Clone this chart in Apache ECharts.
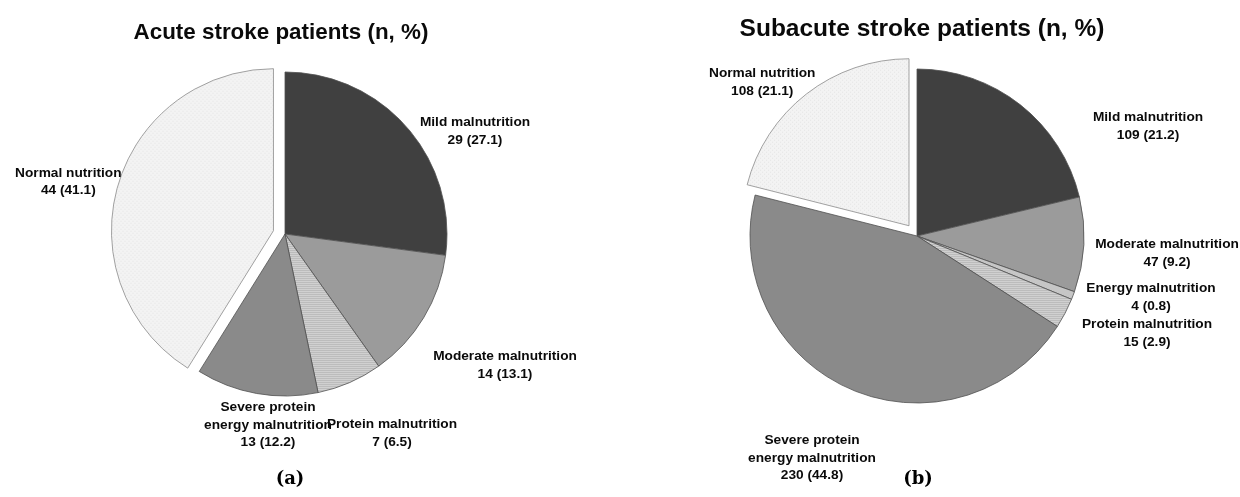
<!DOCTYPE html>
<html>
<head>
<meta charset="utf-8">
<title>Nutritional status of stroke patients</title>
<script src="https://cdn.jsdelivr.net/npm/echarts@6/dist/echarts.min.js"></script>
<style>
  html, body { margin: 0; padding: 0; background: #ffffff; }
  #chart { width: 1240px; height: 497px; }
</style>
</head>
<body>
<div id="chart"></div>
<script>
// Acute stroke patients: slices in clockwise order from 12 o'clock
const acuteCategories = ['Mild malnutrition', 'Moderate malnutrition', 'Protein malnutrition', 'Severe protein\nenergy malnutrition', 'Normal nutrition'];
const acuteCounts = [29, 14, 7, 13, 44];
const acutePercents = ['27.1', '13.1', '6.5', '12.2', '41.1'];

// Subacute stroke patients
const subacuteCategories = ['Mild malnutrition', 'Moderate malnutrition', 'Energy malnutrition', 'Protein malnutrition', 'Severe protein\nenergy malnutrition', 'Normal nutrition'];
const subacuteCounts = [109, 47, 4, 15, 230, 108];
const subacutePercents = ['21.2', '9.2', '0.8', '2.9', '44.8', '21.1'];

const chartTitles = ['Acute stroke patients (n, %)', 'Subacute stroke patients (n, %)'];
const panelLetters = ['a', 'b'];

// Small tiles used as fills for the patterned slices
function makePattern(size, draw) {
  const c = document.createElement('canvas');
  c.width = size; c.height = size;
  draw(c.getContext('2d'), size);
  return { image: c, repeat: 'repeat' };
}
const stripeFill = makePattern(4, (ctx, s) => {
  ctx.fillStyle = '#d0d0d0'; ctx.fillRect(0, 0, s, s);
  ctx.fillStyle = '#bcbcbc'; ctx.fillRect(0, 0, s, 1); ctx.fillRect(0, 2, s, 1);
});
const dotFill = makePattern(4, (ctx, s) => {
  ctx.fillStyle = '#f3f3f3'; ctx.fillRect(0, 0, s, s);
  ctx.fillStyle = '#e4e4e4'; ctx.fillRect(0, 0, 1, 1); ctx.fillRect(2, 2, 1, 1);
});

const fills = {
  'Mild malnutrition': '#404040',
  'Moderate malnutrition': '#9b9b9b',
  'Energy malnutrition': '#c6c6c6',
  'Protein malnutrition': stripeFill,
  'Severe protein\nenergy malnutrition': '#8a8a8a',
  'Normal nutrition': dotFill
};

// Label anchor points (text block centres) for each panel
const labelSpots = [
  [[475, 131], [505, 365], [392, 433], [268, 425], [63, 157]],
  [[1148, 126], [1167, 253], [1151, 297], [1147, 333], [812, 458], [790, 111]]
];

function buildData(cats, counts) {
  return cats.map((name, i) => ({
    name: name,
    value: counts[i],
    selected: name === 'Normal nutrition',
    itemStyle: {
      color: fills[name],
      borderColor: name === 'Normal nutrition' ? '#8a8a8a' : '#505050',
      borderWidth: 0.8
    }
  }));
}

function pieSeries(idx, cats, counts, percents, center, radius, offset) {
  return {
    type: 'pie',
    center: center,
    radius: radius,
    startAngle: 90,
    clockwise: true,
    selectedMode: 'single',
    selectedOffset: offset,
    avoidLabelOverlap: false,
    emphasis: { disabled: true },
    label: {
      show: true,
      position: 'outside',
      fontFamily: 'Liberation Sans, Arial, sans-serif',
      fontWeight: 'bold',
      fontSize: 13.7,
      lineHeight: 17.5,
      color: '#0a0a0a',
      align: 'center',
      formatter: p => p.name + '\n' + counts[p.dataIndex] + ' (' + percents[p.dataIndex] + ')'
    },
    labelLine: { show: false },
    labelLayout: p => {
      const spot = labelSpots[idx][p.dataIndex];
      return { x: spot[0], y: spot[1], align: 'center', verticalAlign: 'middle' };
    },
    data: buildData(cats, counts)
  };
}

const chart = echarts.init(document.getElementById('chart'), null, { renderer: 'canvas' });

const titleFont = size => ({ fontFamily: 'Liberation Sans, Arial, sans-serif', fontWeight: 'bold', fontSize: size, color: '#0a0a0a' });
const captionRich = {
  p: { fontFamily: 'DejaVu Serif, serif', fontSize: 18, color: '#000000' },
  b: { fontFamily: 'DejaVu Serif, serif', fontSize: 18, fontWeight: 'bold', color: '#000000' }
};

chart.setOption({
  animation: false,
  backgroundColor: '#ffffff',
  title: [
    { text: chartTitles[0], left: 276, top: 17, textAlign: 'center', textStyle: titleFont(22.4) },
    { text: chartTitles[1], left: 917, top: 12, textAlign: 'center', textStyle: titleFont(24.5) },
    { text: '{p|(}{b|' + panelLetters[0] + '}{p|)}', left: 285, top: 465, textAlign: 'center', textStyle: { rich: captionRich } },
    { text: '{p|(}{b|' + panelLetters[1] + '}{p|)}', left: 913, top: 465, textAlign: 'center', textStyle: { rich: captionRich } }
  ],
  series: [
    pieSeries(0, acuteCategories, acuteCounts, acutePercents, [285, 234], 162, 12),
    pieSeries(1, subacuteCategories, subacuteCounts, subacutePercents, [917, 236], 167, 13)
  ]
});
</script>
</body>
</html>
